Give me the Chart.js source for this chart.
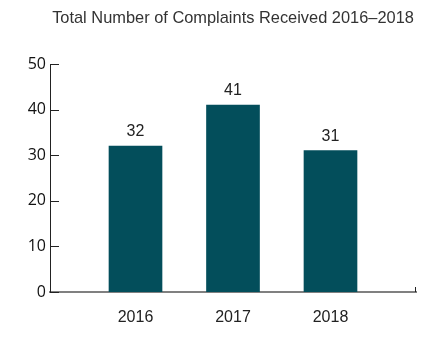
<!DOCTYPE html>
<html>
<head>
<meta charset="utf-8">
<script src="https://cdn.jsdelivr.net/npm/chart.js@4"></script>
<style>
  html, body { margin: 0; padding: 0; background: #fff; }
  #wrap { width: 439px; height: 337px; }
</style>
</head>
<body>
<div id="wrap"><canvas id="complaintsChart" width="439" height="337"></canvas></div>
<script>
// Chart data
const chartTitle = 'Total Number of Complaints Received 2016\u20132018';
const years = ['2016', '2017', '2018'];
const complaints = [32, 41, 31];
const yTicks = [0, 10, 20, 30, 40, 50];

const barColor = '#034e5b';
const fontFamily = '"Liberation Sans", Arial, sans-serif';

// Title centred over the plot, value labels, inward tick marks
const extrasPlugin = {
    id: 'extras',
    afterDraw(chart) {
        const ctx = chart.ctx;
        const area = chart.chartArea;
        const yScale = chart.scales.y;
        ctx.save();

        ctx.fillStyle = '#333';
        ctx.font = '16.4px ' + fontFamily;
        ctx.textAlign = 'center';
        ctx.textBaseline = 'middle';
        ctx.fillText(chartTitle, (area.left + area.right) / 2, 18);

        // y tick marks pointing into the plot
        ctx.strokeStyle = '#222';
        ctx.lineWidth = 1;
        yScale.ticks.forEach(t => {
            const y = Math.round(yScale.getPixelForValue(t.value)) + 0.5;
            ctx.beginPath();
            ctx.moveTo(area.left, y);
            ctx.lineTo(area.left + 9, y);
            ctx.stroke();
        });

        // small tick at the right end of the x axis
        ctx.beginPath();
        ctx.moveTo(area.right - 0.5, area.bottom);
        ctx.lineTo(area.right - 0.5, area.bottom - 5);
        ctx.stroke();

        // values above bars
        ctx.fillStyle = '#222';
        ctx.font = '16px ' + fontFamily;
        ctx.textBaseline = 'alphabetic';
        chart.getDatasetMeta(0).data.forEach((bar, i) => {
            ctx.fillText(String(complaints[i]), bar.x, bar.y - 10);
        });
        ctx.restore();
    }
};

const ctx = document.getElementById('complaintsChart').getContext('2d');
new Chart(ctx, {
    type: 'bar',
    data: {
        datasets: [{
            data: complaints.map((v, i) => ({ x: i, y: v })),
            backgroundColor: barColor,
            borderWidth: 0,
            barThickness: 53
        }]
    },
    options: {
        responsive: false,
        animation: false,
        events: [],
        layout: { padding: { top: 64, right: 23, bottom: 0, left: 0 } },
        plugins: {
            legend: { display: false },
            title: { display: false },
            tooltip: { enabled: false }
        },
        scales: {
            x: {
                type: 'linear',
                offset: false,
                min: -0.877,
                max: 2.877,
                afterBuildTicks: axis => { axis.ticks = years.map((_, i) => ({ value: i })); },
                afterFit: axis => { axis.height = 45; },
                grid: { display: false, drawTicks: false, offset: false },
                border: { display: true, color: '#808080', width: 2 },
                ticks: {
                    padding: 16,
                    maxRotation: 0,
                    autoSkip: false,
                    color: '#222',
                    font: { family: fontFamily, size: 16 },
                    callback: v => years[v]
                }
            },
            y: {
                min: 0,
                max: 50,
                afterBuildTicks: axis => { axis.ticks = yTicks.map(v => ({ value: v })); },
                afterFit: axis => { axis.width = 50; },
                grid: { display: false, drawTicks: false },
                border: { display: true, color: '#222', width: 1 },
                ticks: {
                    padding: 4,
                    color: '#111',
                    font: { family: '"Open Sans", sans-serif', size: 16 }
                }
            }
        }
    },
    plugins: [extrasPlugin]
});
</script>
</body>
</html>
